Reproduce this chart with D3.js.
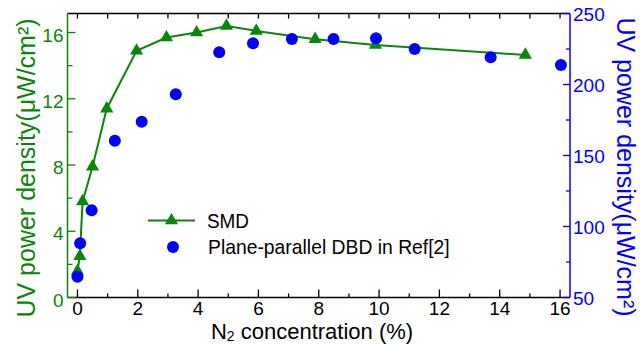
<!DOCTYPE html>
<html>
<head>
<meta charset="utf-8">
<script src="https://cdn.jsdelivr.net/npm/d3@7"></script>
<style>
  body { margin: 0; background: #fff; }
  text { font-family: "Liberation Sans", Arial, sans-serif; }
</style>
</head>
<body>
<div id="chart"></div>
<script>
// SMD series (left axis, uW/cm2)
const smdX = [0, 0.08, 0.17, 0.5, 0.97, 1.96, 2.95, 3.95, 4.94, 5.93, 7.88, 9.88, 14.85];
const smdY = [1.6, 2.5, 5.8, 7.9, 11.4, 14.9, 15.7, 16.0, 16.4, 16.1, 15.6, 15.25, 14.65];
// Plane-parallel DBD series (right axis, uW/cm2)
const dbdX = [0, 0.09, 0.47, 1.24, 2.13, 3.26, 4.7, 5.82, 7.11, 8.49, 9.9, 11.18, 13.7, 16.03];
const dbdY = [64.6, 88.2, 111.4, 160.4, 173.8, 193.1, 222.7, 229, 232, 232, 232.5, 225, 219.2, 213.7];

const xTicks = d3.range(0, 17, 1);
const leftTicks = d3.range(0, 17, 2);
const rightTicks = d3.range(50, 251, 25);

const width = 640, height = 345;
const green = "#0a860a", blue = "#0000ff";
const L = 67.5, R = 570, T = 13.5, B = 297.5;

const svg = d3.select("#chart").append("svg")
  .attr("width", width).attr("height", height);

const x = d3.scaleLinear().domain([-0.33, 16.33]).range([L, R]);
const yL = d3.scaleLinear().domain([0, 17.15]).range([B, T]);
const yR = d3.scaleLinear().domain([50, 250]).range([B, T]);

// frame lines
svg.append("line").attr("x1", L).attr("x2", R).attr("y1", T).attr("y2", T)
  .attr("stroke", "#000").attr("stroke-width", 1.5);
svg.append("line").attr("x1", L).attr("x2", R).attr("y1", B).attr("y2", B)
  .attr("stroke", "#000").attr("stroke-width", 1.5);
svg.append("line").attr("x1", L).attr("x2", L).attr("y1", T).attr("y2", B)
  .attr("stroke", green).attr("stroke-width", 1.5);
svg.append("line").attr("x1", R).attr("x2", R).attr("y1", T).attr("y2", B)
  .attr("stroke", blue).attr("stroke-width", 1.5);

// bottom ticks
svg.append("g").selectAll("line").data(xTicks).join("line")
  .attr("x1", d => x(d)).attr("x2", d => x(d))
  .attr("y1", B).attr("y2", d => B - (d % 2 === 0 ? 8 : 4))
  .attr("stroke", "#000").attr("stroke-width", 1.3);
svg.append("g").selectAll("text").data(xTicks.filter(d => d % 2 === 0)).join("text")
  .attr("x", d => x(d)).attr("y", B + 17)
  .attr("text-anchor", "middle").attr("font-size", 19).attr("fill", "#000")
  .text(d => d);

// top ticks
svg.append("g").selectAll("line").data(xTicks).join("line")
  .attr("x1", d => x(d)).attr("x2", d => x(d))
  .attr("y1", T).attr("y2", T + 5)
  .attr("stroke", "#000").attr("stroke-width", 1.3);

// left axis
svg.append("g").selectAll("line").data(leftTicks).join("line")
  .attr("x1", L).attr("x2", d => L + (d % 4 === 0 ? 8 : 5))
  .attr("y1", d => yL(d)).attr("y2", d => yL(d))
  .attr("stroke", green).attr("stroke-width", 1.3);
svg.append("g").selectAll("text").data(leftTicks.filter(d => d % 4 === 0)).join("text")
  .attr("x", L - 4).attr("y", d => yL(d) + 9)
  .attr("text-anchor", "end").attr("font-size", 19).attr("fill", green)
  .text(d => d);

// right axis
svg.append("g").selectAll("line").data(rightTicks).join("line")
  .attr("x1", R).attr("x2", d => R - (d % 50 === 0 ? 7 : 4))
  .attr("y1", d => yR(d)).attr("y2", d => yR(d))
  .attr("stroke", blue).attr("stroke-width", 1.3);
svg.append("g").selectAll("text").data(rightTicks.filter(d => d % 50 === 0)).join("text")
  .attr("x", R + 3).attr("y", d => yR(d) + 7)
  .attr("text-anchor", "start").attr("font-size", 19).attr("fill", blue)
  .text(d => d);

// x title: N, subscript 2, rest, laid out side by side
const xtParts = [["N", 22, 0], ["2", 14, 2], [" concentration (%)", 22, 0]];
const xtNodes = xtParts.map(p => svg.append("text")
  .attr("y", 339 + p[2]).attr("font-size", p[1]).attr("fill", "#000")
  .style("white-space", "pre").text(p[0]));
const xtW = xtNodes.map(n => n.node().getComputedTextLength());
let cx = 312 - d3.sum(xtW) / 2;
xtNodes.forEach((n, i) => { n.attr("x", cx); cx += xtW[i]; });

svg.append("text").attr("transform", "translate(35,168) rotate(-90)")
  .attr("text-anchor", "middle").attr("font-size", 25).attr("fill", green)
  .text("UV power density(μW/cm²)");
svg.append("text").attr("transform", "translate(617,167) rotate(90)")
  .attr("text-anchor", "middle").attr("font-size", 25).attr("fill", blue)
  .text("UV power density(μW/cm²)");

// SMD line + triangles
const smd = smdX.map((d, i) => [d, smdY[i]]);
svg.append("path").datum(smd)
  .attr("d", d3.line().x(d => x(d[0])).y(d => yL(d[1])))
  .attr("fill", "none").attr("stroke", green).attr("stroke-width", 2);
const tri = d3.symbol().type(d3.symbolTriangle).size(75);
svg.append("g").selectAll("path").data(smd).join("path")
  .attr("transform", d => `translate(${x(d[0])},${yL(d[1])})`)
  .attr("d", tri).attr("fill", green);

// DBD circles
const dbd = dbdX.map((d, i) => [d, dbdY[i]]);
svg.append("g").selectAll("circle").data(dbd).join("circle")
  .attr("cx", d => x(d[0])).attr("cy", d => yR(d[1])).attr("r", 6)
  .attr("fill", blue);

// legend (text stretched horizontally to the reference widths)
const lg = svg.append("g");
lg.append("line").attr("x1", 148).attr("x2", 195).attr("y1", 220.5).attr("y2", 220.5)
  .attr("stroke", green).attr("stroke-width", 2);
lg.append("path").attr("transform", "translate(171.5,220.5)").attr("d", tri).attr("fill", green);
lg.append("circle").attr("cx", 173).attr("cy", 247).attr("r", 6).attr("fill", blue);
const legendText = [["SMD", 207, 228, 42], ["Plane-parallel DBD in Ref[2]", 208, 254, 242]];
legendText.forEach(([s, lx, ly, w]) => {
  const t = lg.append("text").attr("font-size", 20).attr("fill", "#000").text(s);
  const sx = w / t.node().getComputedTextLength();
  t.attr("transform", `translate(${lx},${ly}) scale(${sx},1)`);
});
</script>
</body>
</html>
